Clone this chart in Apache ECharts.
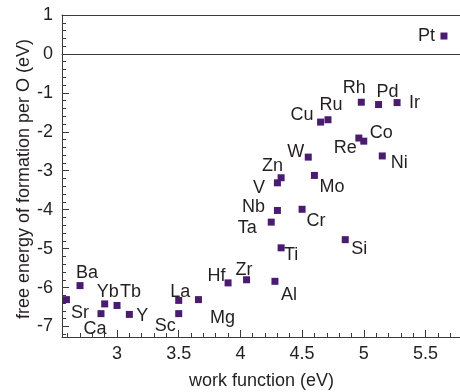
<!DOCTYPE html>
<html>
<head>
<meta charset="utf-8">
<script src="https://cdn.jsdelivr.net/npm/echarts@6/dist/echarts.min.js"></script>
<style>
  html, body { margin: 0; padding: 0; background: #fff; }
  #chart { width: 460px; height: 392px; }
</style>
</head>
<body>
<div id="chart"></div>
<script>
// metals, their work function (eV) and oxide formation energy per O (eV)
const metals = ['Pt', 'Ir', 'Pd', 'Rh', 'Ru', 'Cu', 'Co', 'Re', 'Ni', 'W',
    'Zn', 'V', 'Mo', 'Nb', 'Cr', 'Ta', 'Si', 'Ti', 'Al', 'Zr',
    'Hf', 'Mg', 'La', 'Sc', 'Y', 'Tb', 'Yb', 'Ca', 'Sr', 'Ba'];
const workFunction = [5.65, 5.27, 5.12, 4.98, 4.71, 4.65, 5.00, 4.96, 5.15, 4.55,
    4.33, 4.30, 4.60, 4.30, 4.50, 4.25, 4.85, 4.33, 4.28, 4.05,
    3.90, 3.66, 3.50, 3.50, 3.10, 3.00, 2.90, 2.87, 2.59, 2.70];
const formationEnergy = [0.46, -1.25, -1.30, -1.24, -1.69, -1.75, -2.24, -2.16, -2.62, -2.65,
    -3.18, -3.31, -3.12, -4.02, -3.99, -4.32, -4.77, -4.98, -5.84, -5.80,
    -5.88, -6.31, -6.33, -6.67, -6.69, -6.46, -6.42, -6.67, -6.31, -5.95];

const xTicks = [3, 3.5, 4, 4.5, 5, 5.5];
const yTicks = [-7, -6, -5, -4, -3, -2, -1, 0, 1];

// minor tick positions (axis decoration only)
const xMinor = [];
for (let i = 26; i <= 57; i++) xMinor.push(i / 10);
const yMinor = [];
for (let i = -36; i <= 5; i++) yMinor.push(i / 5);

// where each label sits relative to its marker, in px
const labelOffset = {
    Pt: [-17.5, 0.5], Ir: [17.5, 0.5], Pd: [9, -13], Rh: [-7, -14], Ru: [3, -15],
    Cu: [-18.5, -7.5], Co: [17.5, -8], Re: [-13.5, 9.5], Ni: [17, 7], W: [-12.5, -5],
    Zn: [-8.5, -12], V: [-18.5, 5], Mo: [17.5, 11.5], Nb: [-24, -3], Cr: [14, 12],
    Ta: [-24, 6], Si: [14, 9.5], Ti: [10, 7], Al: [14, 14], Zr: [-2.5, -10],
    Hf: [-11.5, -6.5], Mg: [24, 18.5], La: [1.5, -8.5], Sc: [-13.5, 12], Y: [13, 2],
    Tb: [13.5, -13.5], Yb: [3, -12], Ca: [-6, 15], Sr: [13.5, 13], Ba: [7, -13]
};

const font = 'Liberation Sans, Arial, Helvetica, sans-serif';
const ink = '#231f20';
const axisInk = '#3a3a3a';

const points = metals.map((m, i) => ({
    name: m,
    value: [workFunction[i], formationEnergy[i]],
    label: {offset: labelOffset[m]}
}));

const X_MIN = 2.554, X_MAX = 5.78, Y_MIN = -7.27, Y_MAX = 1;

function bareAxis(min, max, position) {
    return {
        type: 'value', min: min, max: max, position: position,
        axisLine: {show: false, onZero: false},
        axisTick: {show: false},
        axisLabel: {show: false},
        splitLine: {show: false}
    };
}

// ticks point into the plot: negative length flips them inward
function ticks(values, len) {
    return {show: true, inside: false, length: -len, customValues: values,
        lineStyle: {color: axisInk, width: 1}};
}

const xMinorAxis = bareAxis(X_MIN, X_MAX, 'bottom');
xMinorAxis.axisTick = ticks(xMinor, 4);
const xTopAxis = bareAxis(X_MIN, X_MAX, 'top');
xTopAxis.axisLine = {show: true, onZero: false, lineStyle: {color: axisInk, width: 1}};
const xZeroAxis = bareAxis(X_MIN, X_MAX, 'bottom');
xZeroAxis.axisLine = {show: true, onZero: true, onZeroAxisIndex: 0, lineStyle: {color: axisInk, width: 1}};

const yMinorAxis = bareAxis(Y_MIN, Y_MAX, 'left');
yMinorAxis.axisTick = ticks(yMinor, 4);

const chart = echarts.init(document.getElementById('chart'));
chart.setOption({
    animation: false,
    grid: {left: 62, right: 0, top: 15, bottom: 55},
    graphic: [
        {
            type: 'text', x: 24.5, y: 179, rotation: Math.PI / 2,
            style: {text: 'free energy of formation per O (eV)', fill: ink,
                font: '18px ' + font, align: 'center', verticalAlign: 'middle'}
        },
        {
            type: 'text', x: 261.5, y: 381,
            style: {text: 'work function (eV)', fill: ink,
                font: '18px ' + font, align: 'center', verticalAlign: 'middle'}
        }
    ],
    xAxis: [
        {
            type: 'value', min: X_MIN, max: X_MAX, position: 'bottom',
            axisLine: {show: true, onZero: false, lineStyle: {color: axisInk, width: 1}},
            axisTick: ticks(xTicks, 7),
            axisLabel: {customValues: xTicks, fontSize: 18, color: ink, fontFamily: font, margin: 8,
                formatter: v => String(v)},
            splitLine: {show: false}
        },
        xMinorAxis,
        xTopAxis,
        xZeroAxis
    ],
    yAxis: [
        {
            type: 'value', min: Y_MIN, max: Y_MAX, position: 'left',
            axisLine: {show: true, onZero: false, lineStyle: {color: axisInk, width: 1}},
            axisTick: ticks(yTicks, 7),
            axisLabel: {customValues: yTicks, fontSize: 18, color: ink, fontFamily: font, margin: 9,
                formatter: v => String(v)},
            splitLine: {show: false}
        },
        yMinorAxis
    ],
    series: [{
        type: 'scatter',
        xAxisIndex: 0,
        yAxisIndex: 0,
        symbol: 'rect',
        symbolSize: 7,
        itemStyle: {color: '#4a1c70', opacity: 1},
        label: {
            show: true, position: 'inside', formatter: '{b}',
            fontSize: 18, color: ink, fontFamily: font
        },
        data: points
    }]
});
</script>
</body>
</html>
